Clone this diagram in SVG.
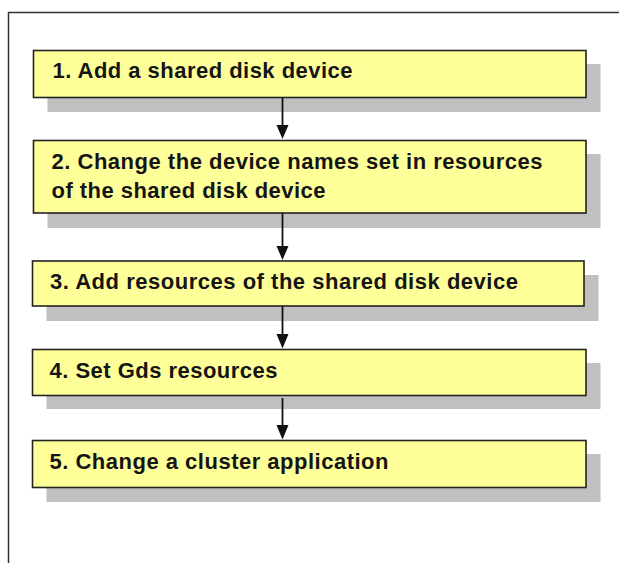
<svg xmlns="http://www.w3.org/2000/svg" width="619" height="563" viewBox="0 0 619 563">
  <style>
    .shadow { fill: #c0c0c0; }
    .box { fill: #ffff99; stroke: #222222; stroke-width: 1.6; }
    .label { font-family: "Liberation Sans", Arial, sans-serif; font-weight: bold; font-size: 22px; fill: #151515; }
    .conn { stroke: #111111; stroke-width: 1.8; fill: none; }
    .head { fill: #111111; }
  </style>
  <rect x="0" y="0" width="619" height="563" fill="#ffffff"/>
  <path d="M8.5 563 V12.5 H619" fill="none" stroke="#333333" stroke-width="1.5"/>

  <g id="step1">
    <rect class="shadow" x="47.5" y="64" width="553" height="48"/>
    <rect class="box" x="33.5" y="50.5" width="552.5" height="47"/>
    <text class="label" x="52.5" y="78" textLength="300" lengthAdjust="spacing">1. Add a shared disk device</text>
  </g>
  <g id="step2">
    <rect class="shadow" x="47.5" y="154" width="553" height="74"/>
    <rect class="box" x="33.5" y="140.5" width="552.5" height="72.5"/>
    <text class="label" x="51.5" y="169" textLength="491" lengthAdjust="spacing">2. Change the device names set in resources</text>
    <text class="label" x="51.5" y="198" textLength="274" lengthAdjust="spacing">of the shared disk device</text>
  </g>
  <g id="step3">
    <rect class="shadow" x="46.5" y="275" width="552" height="46"/>
    <rect class="box" x="32.5" y="261" width="551.5" height="45"/>
    <text class="label" x="50" y="289" textLength="468" lengthAdjust="spacing">3. Add resources of the shared disk device</text>
  </g>
  <g id="step4">
    <rect class="shadow" x="46.5" y="363" width="554" height="46"/>
    <rect class="box" x="32.5" y="349.5" width="553.5" height="46"/>
    <text class="label" x="49.5" y="378" textLength="228" lengthAdjust="spacing">4. Set Gds resources</text>
  </g>
  <g id="step5">
    <rect class="shadow" x="46.5" y="454" width="554" height="48"/>
    <rect class="box" x="32.5" y="440.5" width="553.5" height="47"/>
    <text class="label" x="49.5" y="469" textLength="339" lengthAdjust="spacing">5. Change a cluster application</text>
  </g>

  <g id="connectors">
    <line class="conn" x1="282.5" y1="98" x2="282.5" y2="126"/>
    <polygon class="head" points="276.5,125 288.5,125 282.5,139"/>
    <line class="conn" x1="282.5" y1="213" x2="282.5" y2="247"/>
    <polygon class="head" points="276.5,246 288.5,246 282.5,260"/>
    <line class="conn" x1="282.5" y1="306" x2="282.5" y2="335"/>
    <polygon class="head" points="276.5,334 288.5,334 282.5,348.5"/>
    <line class="conn" x1="282.5" y1="398" x2="282.5" y2="426"/>
    <polygon class="head" points="276.5,425 288.5,425 282.5,439.5"/>
  </g>
</svg>
